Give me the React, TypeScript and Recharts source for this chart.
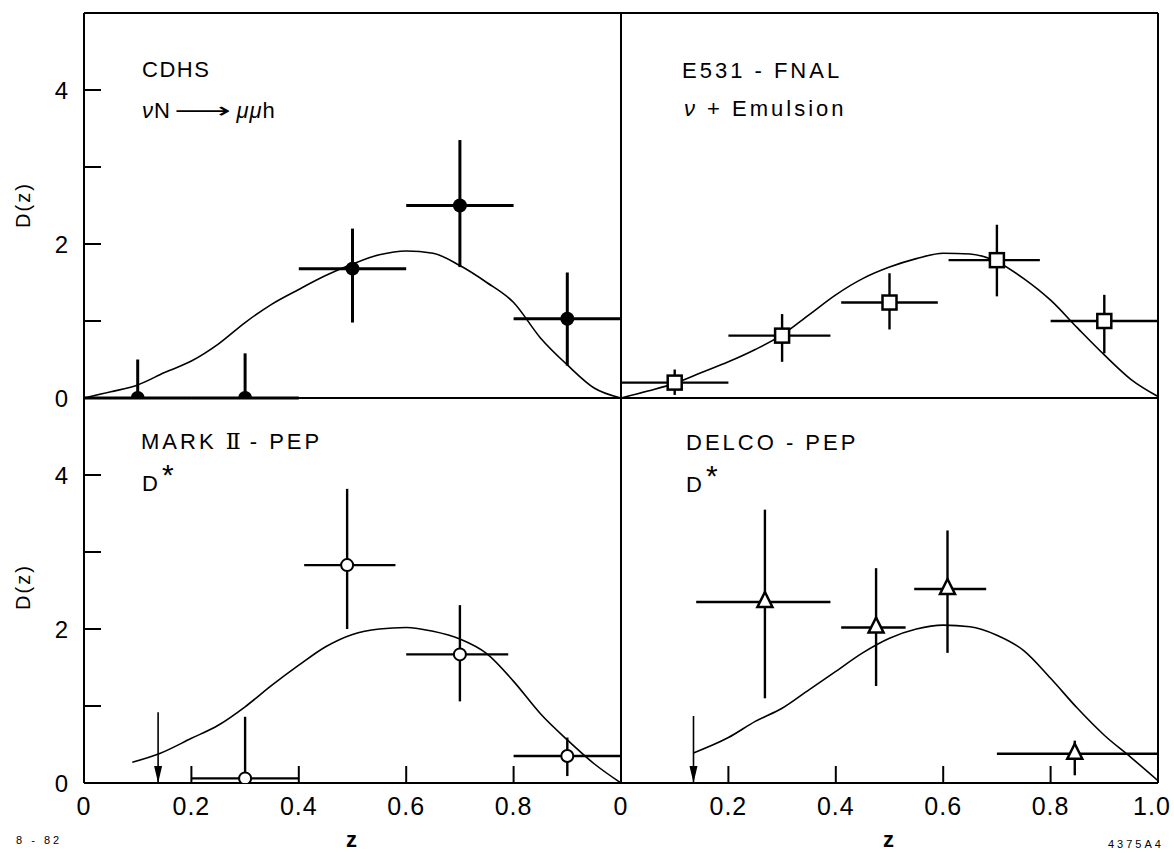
import React from 'react';
import { ComposedChart, Scatter, Line, XAxis, YAxis, ErrorBar } from 'recharts';

// CDHS  (nu N -> mu mu h), filled circles
const cdhsZ = [0.1, 0.3, 0.5, 0.7, 0.9];
const cdhsD = [0, 0, 1.68, 2.5, 1.03];
const cdhsZLo = [0, 0.2, 0.4, 0.6, 0.8];
const cdhsZHi = [0.2, 0.4, 0.6, 0.8, 1.0];
const cdhsDLo = [0, 0, 0.98, 1.7, 0.42];
const cdhsDHi = [0.5, 0.58, 2.2, 3.35, 1.63];

// E531 - FNAL, open squares
const e531Z = [0.1, 0.3, 0.5, 0.7, 0.9];
const e531D = [0.2, 0.81, 1.24, 1.79, 1.0];
const e531ZLo = [0, 0.2, 0.41, 0.61, 0.8];
const e531ZHi = [0.2, 0.39, 0.59, 0.78, 1.0];
const e531DLo = [0.04, 0.47, 0.89, 1.32, 0.58];
const e531DHi = [0.37, 1.09, 1.62, 2.25, 1.34];

// MARK II - PEP, open circles
const markZ = [0.3, 0.49, 0.7, 0.9];
const markD = [0.06, 2.83, 1.67, 0.35];
const markZLo = [0.2, 0.41, 0.6, 0.8];
const markZHi = [0.4, 0.58, 0.79, 1.0];
const markDLo = [0, 2.0, 1.06, 0.09];
const markDHi = [0.86, 3.82, 2.31, 0.59];
const markLimitZ = 0.138;
const markLimitD = 0.92;

// DELCO - PEP, open triangles
const delcoZ = [0.268, 0.475, 0.608, 0.845];
const delcoD = [2.35, 2.02, 2.52, 0.38];
const delcoZLo = [0.14, 0.41, 0.546, 0.7];
const delcoZHi = [0.39, 0.53, 0.68, 1.0];
const delcoDLo = [1.1, 1.26, 1.69, 0.1];
const delcoDHi = [3.55, 2.79, 3.28, 0.55];
const delcoLimitZ = 0.135;
const delcoLimitD = 0.87;

// fitted curves
const cdhsCurveZ = [0, 0.05, 0.1, 0.15, 0.2, 0.25, 0.3, 0.35, 0.4, 0.45, 0.5, 0.55, 0.6, 0.65, 0.7, 0.75, 0.8, 0.85, 0.9, 0.95, 1.0];
const cdhsCurveD = [0, 0.08, 0.17, 0.33, 0.48, 0.7, 0.98, 1.22, 1.41, 1.59, 1.74, 1.86, 1.91, 1.88, 1.72, 1.5, 1.24, 0.78, 0.43, 0.13, 0];
const e531CurveZ = [0, 0.05, 0.1, 0.15, 0.2, 0.25, 0.3, 0.35, 0.4, 0.45, 0.5, 0.55, 0.6, 0.65, 0.7, 0.75, 0.8, 0.85, 0.9, 0.95, 1.0];
const e531CurveD = [0, 0.09, 0.19, 0.33, 0.47, 0.63, 0.82, 1.08, 1.34, 1.55, 1.7, 1.81, 1.88, 1.87, 1.77, 1.55, 1.27, 0.91, 0.56, 0.24, 0.02];
const markCurveZ = [0.09, 0.14, 0.2, 0.25, 0.3, 0.35, 0.4, 0.45, 0.5, 0.55, 0.6, 0.65, 0.7, 0.75, 0.8, 0.85, 0.9, 0.95, 1.0];
const markCurveD = [0.27, 0.38, 0.58, 0.75, 0.99, 1.27, 1.53, 1.77, 1.93, 2.0, 2.02, 1.97, 1.87, 1.68, 1.32, 0.9, 0.56, 0.25, 0];
const delcoCurveZ = [0.135, 0.2, 0.25, 0.3, 0.35, 0.4, 0.45, 0.5, 0.55, 0.6, 0.65, 0.7, 0.75, 0.8, 0.85, 0.9, 0.95, 1.0];
const delcoCurveD = [0.39, 0.59, 0.8, 0.97, 1.21, 1.45, 1.69, 1.88, 2.0, 2.05, 2.03, 1.92, 1.72, 1.36, 0.97, 0.62, 0.33, 0.03];

const yTicks = [0, 1, 2, 3, 4];
const xTicks = [0, 0.2, 0.4, 0.6, 0.8, 1];
const innerXTicks = [0.2, 0.4, 0.6, 0.8];

const FONT = '"Liberation Sans", Arial, sans-serif';
const PLOT_W = 537;
const PLOT_H = 385;

const toPoints = (z: number[], d: number[], zlo: number[], zhi: number[], dlo: number[], dhi: number[]) =>
  z.map((v, i) => ({ z: v, d: d[i], ex: [v - zlo[i], zhi[i] - v], ey: [d[i] - dlo[i], dhi[i] - d[i]] }));
const toCurve = (z: number[], d: number[]) => z.map((v, i) => ({ z: v, d: d[i] }));

const filledCircle = (p: any) => <circle cx={p.cx} cy={p.cy} r={7} fill="#000" />;
const openSquare = (p: any) => (
  <rect x={p.cx - 7} y={p.cy - 7} width={14} height={14} fill="#fff" stroke="#000" strokeWidth={2.5} />
);
const openCircle = (p: any) => <circle cx={p.cx} cy={p.cy} r={6} fill="#fff" stroke="#000" strokeWidth={2} />;
const openTriangle = (p: any) => (
  <polygon
    points={`${p.cx},${p.cy - 10} ${p.cx - 7.5},${p.cy + 5} ${p.cx + 7.5},${p.cy + 5}`}
    fill="#fff"
    stroke="#000"
    strokeWidth={2.5}
  />
);
const arrowHead = (p: any) => (
  <polygon points={`${p.cx - 4},${p.cy - 17} ${p.cx + 4},${p.cy - 17} ${p.cx},${p.cy}`} fill="#000" />
);

// bottom tick labels; the last one ("1.0") is nudged left so it stays on the page
const makeXTick = (col: number) => (p: any) => {
  const v = p.payload.value;
  const label = v === 0 ? '0' : v === 1 ? (col === 0 ? '' : '1.0') : v.toFixed(1);
  return (
    <text x={p.x} y={p.y} dx={v === 1 ? -6 : 0} dy="0.71em" textAnchor="middle" fontSize={25} fontFamily={FONT} fill="#000" letterSpacing={1}>
      {label}
    </text>
  );
};

type PanelProps = {
  col: number;
  row: number;
  points: any[];
  curve: any[];
  shape: any;
  barWidth: number;
  limit?: { z: number; d: number };
};

const axisStyle = { stroke: '#000', strokeWidth: 2 };
const tickStyle = { stroke: '#000', strokeWidth: 2 };

function Panel({ col, row, points, curve, shape, barWidth, limit }: PanelProps) {
  const lw = col === 0 ? 84 : 10;
  const rw = col === 0 ? 10 : 16;
  const th = row === 0 ? 13 : 10;
  const bh = row === 0 ? 20 : 60;
  const width = lw + PLOT_W + rw;
  const height = th + PLOT_H + bh;
  const left = col === 0 ? 0 : 611;
  const top = row === 0 ? 0 : 388;

  return (
    <div style={{ position: 'absolute', left, top }}>
      <ComposedChart width={width} height={height} margin={{ top: 0, right: 0, bottom: 0, left: 0 }}>
        <XAxis
          dataKey="z"
          type="number"
          domain={[0, 1]}
          allowDataOverflow
          ticks={xTicks}
          interval={0}
          height={bh}
          tickSize={row === 1 ? -17 : -14}
          tickMargin={31}
          axisLine={axisStyle}
          tickLine={tickStyle}
          tick={row === 1 ? makeXTick(col) : false}
        />
        <XAxis
          xAxisId="t"
          orientation="top"
          type="number"
          domain={[0, 1]}
          allowDataOverflow
          ticks={innerXTicks}
          interval={0}
          height={th}
          tickSize={-18}
          axisLine={axisStyle}
          tickLine={row === 0 ? tickStyle : false}
          tick={false}
        />
        <YAxis
          type="number"
          domain={[0, 5]}
          allowDataOverflow
          ticks={yTicks}
          interval={0}
          width={lw}
          tickSize={-17}
          tickMargin={33}
          axisLine={axisStyle}
          tickLine={tickStyle}
          tick={col === 0 ? { fontSize: 24, fill: '#000', fontFamily: FONT } : false}
          tickFormatter={(v: number) => (v % 2 === 0 ? String(v) : '')}
        />
        <YAxis
          yAxisId="r"
          orientation="right"
          type="number"
          domain={[0, 5]}
          allowDataOverflow
          ticks={yTicks}
          interval={0}
          width={rw}
          tickSize={-16}
          axisLine={axisStyle}
          tickLine={col === 1 ? tickStyle : false}
          tick={false}
        />
        <Line data={curve} dataKey="d" type="monotone" stroke="#000" strokeWidth={1.6} dot={false} isAnimationActive={false} />
        {limit && (
          <Line
            data={[{ z: limit.z, d: limit.d }, { z: limit.z, d: 0 }]}
            dataKey="d"
            type="linear"
            stroke="#000"
            strokeWidth={1.6}
            dot={false}
            isAnimationActive={false}
          />
        )}
        {limit && <Scatter data={[{ z: limit.z, d: 0 }]} dataKey="d" shape={arrowHead} isAnimationActive={false} />}
        <Scatter data={points} dataKey="d" shape={shape} isAnimationActive={false}>
          <ErrorBar dataKey="ex" direction="x" width={0} stroke="#000" strokeWidth={barWidth} />
          <ErrorBar dataKey="ey" direction="y" width={0} stroke="#000" strokeWidth={barWidth} />
        </Scatter>
      </ComposedChart>
    </div>
  );
}

const noteStyle: React.CSSProperties = {
  position: 'absolute',
  fontFamily: FONT,
  fontSize: 22,
  letterSpacing: 3,
  color: '#000',
  whiteSpace: 'nowrap',
  lineHeight: '24px',
};

const Star = () => <span style={{ fontSize: 30, position: 'relative', top: -6, marginLeft: 1 }}>*</span>;
const Arrow = () => (
  <span
    style={{
      display: 'inline-block',
      fontFamily: '"DejaVu Sans"',
      letterSpacing: 0,
      transform: 'scaleX(1.8)',
      margin: '0 18px 0 16px',
    }}
  >
    ⟶
  </span>
);

export default function App() {
  return (
    <div style={{ position: 'absolute', left: 0, top: 0, width: 1174, height: 853, background: '#fff', overflow: 'hidden' }}>
      <Panel col={0} row={0} points={toPoints(cdhsZ, cdhsD, cdhsZLo, cdhsZHi, cdhsDLo, cdhsDHi)} curve={toCurve(cdhsCurveZ, cdhsCurveD)} shape={filledCircle} barWidth={3} />
      <Panel col={1} row={0} points={toPoints(e531Z, e531D, e531ZLo, e531ZHi, e531DLo, e531DHi)} curve={toCurve(e531CurveZ, e531CurveD)} shape={openSquare} barWidth={2.4} />
      <Panel col={0} row={1} points={toPoints(markZ, markD, markZLo, markZHi, markDLo, markDHi)} curve={toCurve(markCurveZ, markCurveD)} shape={openCircle} barWidth={2.4} limit={{ z: markLimitZ, d: markLimitD }} />
      <Panel col={1} row={1} points={toPoints(delcoZ, delcoD, delcoZLo, delcoZHi, delcoDLo, delcoDHi)} curve={toCurve(delcoCurveZ, delcoCurveD)} shape={openTriangle} barWidth={2.4} limit={{ z: delcoLimitZ, d: delcoLimitD }} />

      <div style={{ ...noteStyle, letterSpacing: 1.5, left: 142, top: 58 }}>CDHS</div>
      <div style={{ ...noteStyle, letterSpacing: 1, left: 142, top: 99 }}>
        <i>ν</i>N<Arrow /><i>μμ</i>h
      </div>
      <div style={{ ...noteStyle, left: 682, top: 59 }}>E531 - FNAL</div>
      <div style={{ ...noteStyle, left: 684, top: 97 }}>
        <i>ν</i> + Emulsion
      </div>
      <div style={{ ...noteStyle, left: 141, top: 430 }}>
        MARK <span style={{ fontFamily: '"DejaVu Serif"', letterSpacing: 0 }}>Ⅱ</span> - PEP
      </div>
      <div style={{ ...noteStyle, left: 142, top: 469 }}>
        D<Star />
      </div>
      <div style={{ ...noteStyle, left: 686, top: 431 }}>DELCO - PEP</div>
      <div style={{ ...noteStyle, left: 686, top: 470 }}>
        D<Star />
      </div>

      <div style={{ ...noteStyle, fontSize: 20, letterSpacing: 2, left: 23, top: 205, transform: 'translate(-50%, -50%) rotate(-90deg)' }}>D(z)</div>
      <div style={{ ...noteStyle, fontSize: 20, letterSpacing: 2, left: 23, top: 587, transform: 'translate(-50%, -50%) rotate(-90deg)' }}>D(z)</div>
      <div style={{ ...noteStyle, fontSize: 22, fontWeight: 'bold', left: 353, top: 840, transform: 'translate(-50%, -50%)' }}>z</div>
      <div style={{ ...noteStyle, fontSize: 22, fontWeight: 'bold', left: 890, top: 840, transform: 'translate(-50%, -50%)' }}>z</div>
      <div style={{ ...noteStyle, fontSize: 11, letterSpacing: 3, left: 16, top: 828 }}>8 - 82</div>
      <div style={{ ...noteStyle, fontSize: 11, letterSpacing: 3, left: 1108, top: 832 }}>4375A4</div>
    </div>
  );
}
